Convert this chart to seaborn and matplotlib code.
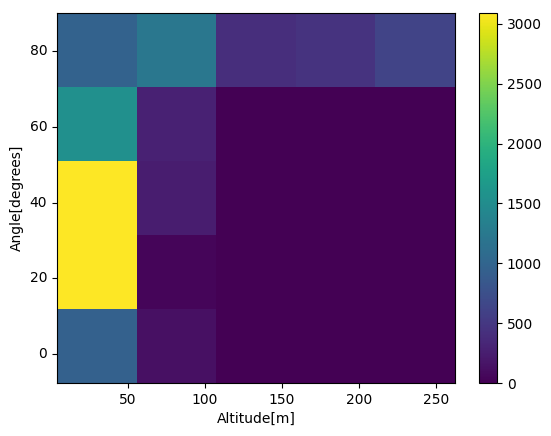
import numpy as np
import matplotlib
matplotlib.use("Agg")
import matplotlib.pyplot as plt
import seaborn as sns

# bin edges
alt_edges = [3.9, 55.6, 107.2, 158.9, 210.6, 262.3]
ang_edges = [-7.6, 11.9, 31.4, 50.9, 70.4, 90.0]

# counts, rows from lowest angle bin to highest, columns by altitude bin
row_0 = [950, 130, 10, 5, 5]
row_1 = [3085, 40, 5, 2, 2]
row_2 = [3090, 250, 5, 2, 2]
row_3 = [1540, 280, 5, 2, 2]
row_4 = [960, 1230, 400, 450, 620]

counts = np.array([row_0, row_1, row_2, row_3, row_4])

xticks = [50, 100, 150, 200, 250]
yticks = [0, 20, 40, 60, 80]

fig = plt.figure(figsize=(5.51, 4.36), dpi=100)
ax = fig.add_axes([57/551, 53/436, 398/551, 370/436])
cax = fig.add_axes([479/551, 53/436, 18/551, 370/436])

sns.heatmap(counts, cmap="viridis", vmin=0, vmax=3090, ax=ax, cbar_ax=cax)
ax.invert_yaxis()

# map real values onto heatmap cell coordinates
xw = (alt_edges[-1] - alt_edges[0]) / len(row_0)
yw = (ang_edges[-1] - ang_edges[0]) / counts.shape[0]
ax.set_xticks([(v - alt_edges[0]) / xw for v in xticks], [str(v) for v in xticks], rotation=0)
ax.set_yticks([(v - ang_edges[0]) / yw for v in yticks], [str(v) for v in yticks], rotation=0)
ax.tick_params(length=3.5, width=0.8, labelsize=10)
for s in ax.spines.values():
    s.set_visible(True)
    s.set_linewidth(0.8)
    s.set_color("black")
ax.set_xlabel("Altitude[m]")
ax.set_ylabel("Angle[degrees]")

cb = ax.collections[0].colorbar
cb.outline.set_visible(True)
cb.outline.set_linewidth(0.8)
cb.outline.set_edgecolor("black")
cb.set_ticks([0, 500, 1000, 1500, 2000, 2500, 3000])
cax.tick_params(length=3.5, width=0.8, labelsize=10)

fig.savefig("out.png", dpi=100)
